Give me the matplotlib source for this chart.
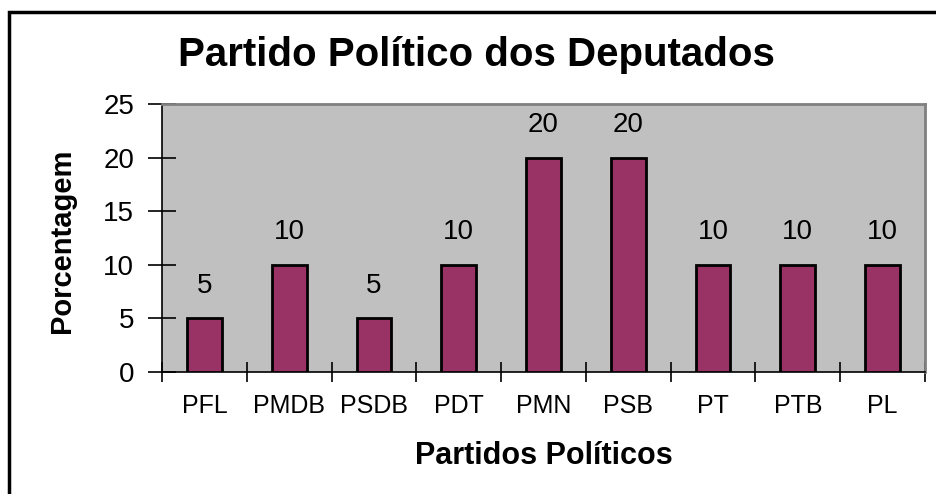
import matplotlib.pyplot as plt
from matplotlib.patches import Rectangle

# Chart data
partidos = ['PFL', 'PMDB', 'PSDB', 'PDT', 'PMN', 'PSB', 'PT', 'PTB', 'PL']
porcentagem = [5, 10, 5, 10, 20, 20, 10, 10, 10]
y_ticks = [0, 5, 10, 15, 20, 25]

plt.rcParams['font.family'] = ['Liberation Sans', 'DejaVu Sans']

fig = plt.figure(figsize=(9.37, 4.94), dpi=100)
ax = fig.add_axes([0.1729, 0.247, 0.8143, 0.5425])
ax.set_facecolor('#C0C0C0')

x = list(range(len(partidos)))
bars = ax.bar(x, porcentagem, width=0.41, color='#993366',
              edgecolor='black', linewidth=2, zorder=3)

for xi, v in zip(x, porcentagem):
    ax.annotate(str(v), (xi, v), xytext=(0, 14), textcoords='offset points',
                ha='center', va='bottom', fontsize=20)

ax.set_xlim(-0.5, len(partidos) - 0.5)
ax.set_ylim(0, 25)
ax.set_yticks(y_ticks)
ax.set_xticks(x)
ax.set_xticklabels(partidos)
ax.set_xticks([i - 0.5 for i in range(len(partidos) + 1)], minor=True)

ax.tick_params(axis='y', direction='inout', length=20, width=1.2,
               labelsize=20, pad=10)
ax.tick_params(axis='x', which='major', length=0, labelsize=18, pad=16)
ax.tick_params(axis='x', which='minor', direction='inout', length=14, width=1.2)

for side in ['top', 'right']:
    ax.spines[side].set_color('#808080')
    ax.spines[side].set_linewidth(2)
for side in ['left', 'bottom']:
    ax.spines[side].set_color('black')
    ax.spines[side].set_linewidth(1.2)

fig.text(0.508, 0.889, 'Partido Político dos Deputados', ha='center',
         va='center', fontsize=29, fontweight='bold')
fig.text(0.066, 0.512, 'Porcentagem', rotation=90, ha='center', va='center',
         fontsize=21, fontweight='bold')
fig.text(0.58, 0.077, 'Partidos Políticos', ha='center', va='center',
         fontsize=22, fontweight='bold')

# outer chart border (cut off on the right and bottom)
fig.patches.append(Rectangle((0.0096, -0.1), 1.1, 1.0757, transform=fig.transFigure,
                             fill=False, edgecolor='black', linewidth=2.5))

fig.savefig('out.png', dpi=100)
